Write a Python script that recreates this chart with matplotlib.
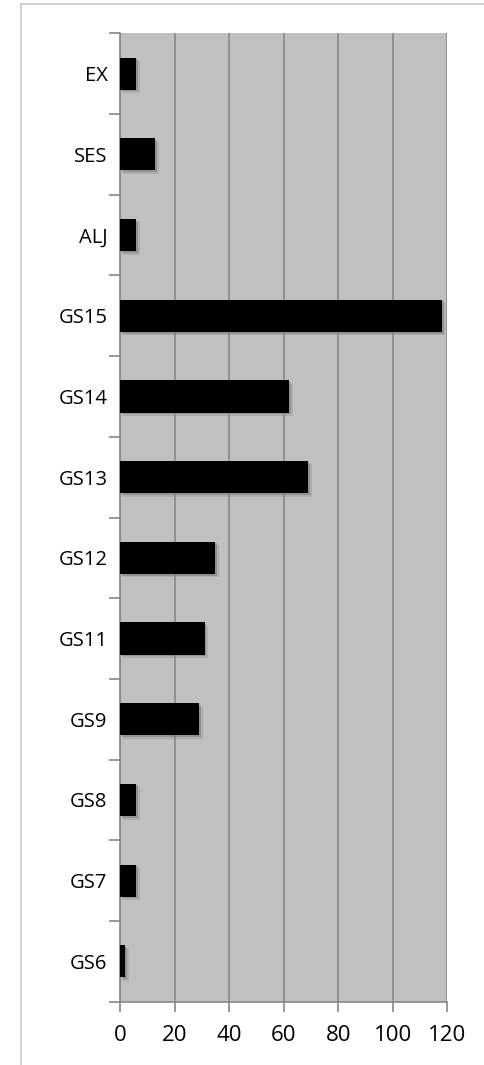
import matplotlib
matplotlib.use("Agg")
import matplotlib.pyplot as plt
import matplotlib.patheffects as pe
from matplotlib.lines import Line2D

categories = ["GS6", "GS7", "GS8", "GS9", "GS11", "GS12", "GS13", "GS14", "GS15", "ALJ", "SES", "EX"]
values = [2, 6, 6, 29, 31, 35, 69, 62, 118, 6, 13, 6]
x_ticks = [0, 20, 40, 60, 80, 100, 120]

plt.rcParams['font.family'] = ['Open Sans', 'DejaVu Sans']

fig = plt.figure(figsize=(4.85, 10.65), dpi=100)
ax = fig.add_axes([120/485, 1 - 1001.7/1065, 327.3/485, 968.4/1065])
ax.set_facecolor("#c0c0c0")

pos = list(range(len(categories)))
bars = ax.barh(pos, values, height=0.4, color="black", zorder=3)
for b in bars:
    b.set_path_effects([
        pe.SimplePatchShadow(offset=(2.5, -2.5), shadow_rgbFace="#8a8a8a", alpha=0.35),
        pe.SimplePatchShadow(offset=(1.2, -1.2), shadow_rgbFace="#707070", alpha=0.45),
        pe.Normal()])

ax.set_xlim(0, 120)
ax.set_ylim(-0.5, len(categories) - 0.5)
ax.set_xticks(x_ticks)
ax.set_xticklabels([str(t) for t in x_ticks], fontsize=16)
ax.set_yticks(pos)
ax.set_yticklabels(categories, fontsize=14.5)
ax.set_yticks([p - 0.5 for p in pos] + [len(categories) - 0.5], minor=True)
ax.tick_params(axis="y", which="major", length=0, pad=9)
ax.tick_params(axis="y", which="minor", length=8, width=1.2, color="#888888")
ax.tick_params(axis="x", which="major", length=7, width=1.2, color="#888888", pad=10)

ax.grid(axis="x", color="#888888", linewidth=1.2, zorder=1)
ax.set_axisbelow(True)
for side in ["top", "right"]:
    ax.spines[side].set_visible(False)
ax.spines["left"].set_color("#888888")
ax.spines["left"].set_linewidth(1.2)
ax.spines["bottom"].set_color("#888888")
ax.spines["bottom"].set_linewidth(1.2)

# outer chart frame (cropped)
fig.add_artist(Line2D([21/485, 1], [1 - 4/1065, 1 - 4/1065], transform=fig.transFigure, color="#c8c8c8", linewidth=1.2))
fig.add_artist(Line2D([21/485, 21/485], [0, 1 - 4/1065], transform=fig.transFigure, color="#c8c8c8", linewidth=1.2))

fig.savefig("out.png", dpi=100)
